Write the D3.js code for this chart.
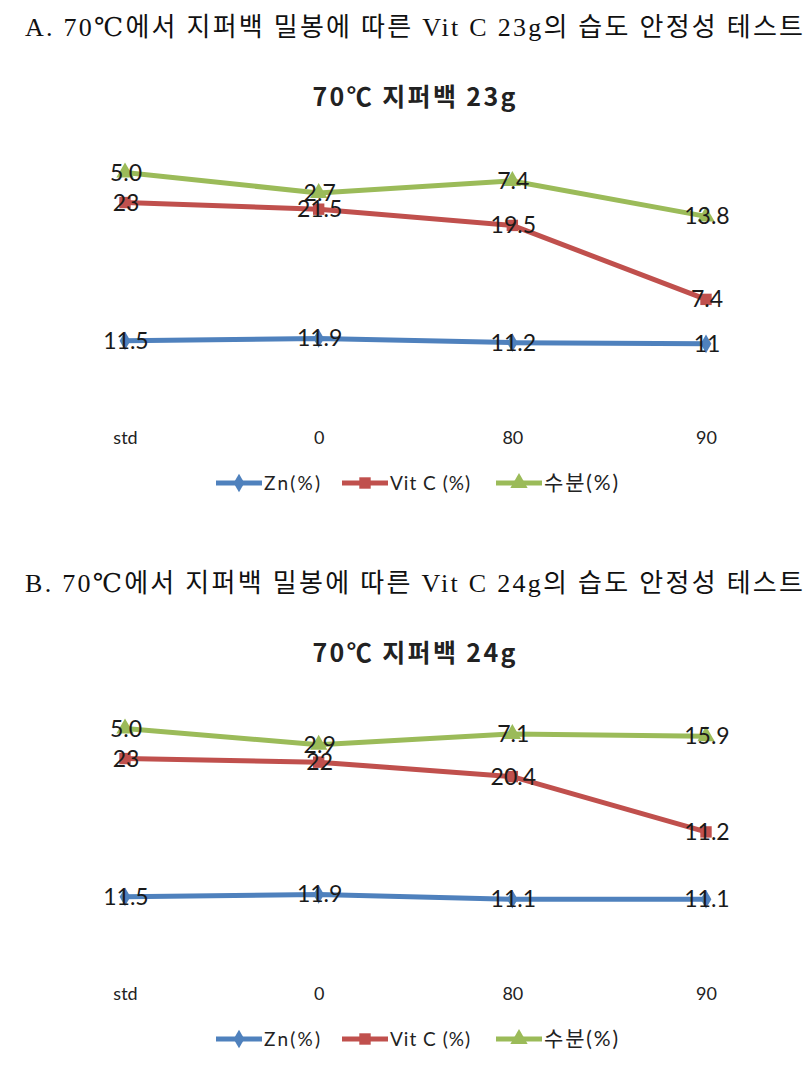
<!DOCTYPE html>
<html><head><meta charset="utf-8">
<script src="https://cdn.jsdelivr.net/npm/d3@7"></script>
<style>body{margin:0;background:#fff}svg{display:block}</style>
</head><body><svg id="c" width="806" height="1067"></svg>
<script>
const categories = ["std", "0", "80", "90"];
const seriesKeys = ["zn", "vitc", "water"];
const seriesNames = ["Zn(%)", "Vit C (%)", "수분(%)"];
const seriesColors = ["#4F81BD", "#C0504D", "#9BBB59"];

const captionA = "A. 70℃에서 지퍼백 밀봉에 따른 Vit C 23g의 습도 안정성 테스트";
const titleA = "70℃ 지퍼백 23g";
const znA = [11.5, 11.9, 11.2, 11];
const vitcA = [23, 21.5, 19.5, 7.4];
const waterA = [5.0, 2.7, 7.4, 13.8];

const captionB = "B. 70℃에서 지퍼백 밀봉에 따른 Vit C 24g의 습도 안정성 테스트";
const titleB = "70℃ 지퍼백 24g";
const znB = [11.5, 11.9, 11.1, 11.1];
const vitcB = [23, 22, 20.4, 11.2];
const waterB = [5.0, 2.9, 7.1, 15.9];

const svg = d3.select("#c");
const symbols = [d3.symbolDiamond, d3.symbolSquare, d3.symbolTriangle];
const symSizes = [100, 130, 130];
const fmt = [v => String(v), v => String(v), v => v.toFixed(1)];

function panel(off, caption, title, zn, vitc, water) {
  const g = svg.append("g").attr("transform", `translate(0,${off})`);
  const rows = categories.map((c, i) => ({cat: c, zn: zn[i], vitc: vitc[i], water: water[i]}));
  const stack = d3.stack().keys(seriesKeys)(rows);

  const x = d3.scalePoint().domain(categories).range([125, 706]);
  const y = d3.scaleLinear().domain([0, 40]).range([410, 169.5]);

  g.append("text").attr("x", 25).attr("y", 36)
    .attr("font-family", "'Liberation Serif','DejaVu Serif','Noto Sans CJK KR',serif")
    .attr("font-size", 26).attr("fill", "#111")
    .attr("textLength", 778).attr("lengthAdjust", "spacing")
    .text(caption);

  g.append("text").attr("x", 414).attr("y", 106).attr("text-anchor", "middle")
    .attr("font-family", "'Noto Sans CJK KR','Noto Sans',sans-serif")
    .attr("font-size", 25).attr("font-weight", "bold").attr("fill", "#222")
    .attr("textLength", 203).attr("lengthAdjust", "spacing")
    .text(title);

  const line = d3.line().x(d => x(d.data.cat)).y(d => y(d[1]));
  stack.forEach((s, k) => {
    g.append("path").datum(s).attr("d", line).attr("fill", "none")
      .attr("stroke", seriesColors[k]).attr("stroke-width", 5)
      .attr("stroke-linejoin", "round").attr("stroke-linecap", "round");
  });
  stack.forEach((s, k) => {
    g.selectAll(null).data(s).enter().append("path")
      .attr("d", d3.symbol().type(symbols[k]).size(symSizes[k]))
      .attr("transform", d => `translate(${x(d.data.cat)},${y(d[1])})`)
      .attr("fill", seriesColors[k]);
  });
  stack.forEach((s, k) => {
    g.selectAll(null).data(s).enter().append("text")
      .attr("x", d => x(d.data.cat) + 1).attr("y", d => y(d[1]) + 8)
      .attr("text-anchor", "middle")
      .attr("font-family", "Lato,'Open Sans',sans-serif").attr("font-size", 23)
      .attr("fill", "#1a1a1a")
      .text(d => fmt[k](d.data[s.key]));
  });

  const xAxis = d3.axisBottom(x).tickSize(0).tickPadding(0);
  const ax = g.append("g").attr("transform", "translate(0,438)").call(xAxis);
  ax.select(".domain").remove();
  ax.selectAll("text").attr("font-family", "Lato,'Open Sans',sans-serif")
    .attr("font-size", 18).attr("fill", "#222").attr("dy", "0.35em");

  const legX = [216, 342, 496];
  const lg = g.append("g").attr("transform", "translate(0,483)");
  seriesNames.forEach((n, k) => {
    lg.append("line").attr("x1", legX[k]).attr("x2", legX[k] + 46)
      .attr("stroke", seriesColors[k]).attr("stroke-width", 5);
    lg.append("path").attr("d", d3.symbol().type(symbols[k]).size(symSizes[k]))
      .attr("transform", `translate(${legX[k] + 23},0)`).attr("fill", seriesColors[k]);
    lg.append("text").attr("x", legX[k] + 48).attr("y", 7)
      .attr("font-family", "Lato,'Noto Sans CJK KR',sans-serif")
      .attr("font-size", k === 2 ? 21 : 19).attr("fill", "#222")
      .attr("textLength", [56, 80, 74][k]).attr("lengthAdjust", "spacing")
      .text(n);
  });
}

panel(0, captionA, titleA, znA, vitcA, waterA);
panel(556, captionB, titleB, znB, vitcB, waterB);
</script>
</body></html>
